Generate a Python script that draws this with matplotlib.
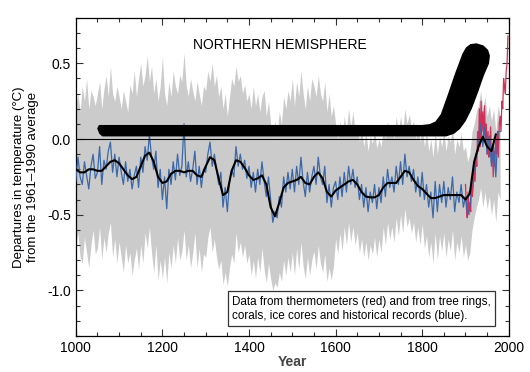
import numpy as np
import matplotlib
matplotlib.use("Agg")
import matplotlib.pyplot as plt
from matplotlib.ticker import MultipleLocator, FormatStrFormatter

plt.rcParams['font.family'] = ['Liberation Sans', 'DejaVu Sans']

# Reconstruction (tree rings, corals, ice cores, historical records), 5-year steps
proxy_years = np.arange(1000, 1985, 5)
proxy = [
    -0.28, -0.12, -0.25, -0.30, -0.15, -0.24, -0.33, -0.18, -0.10, -0.26,
    -0.22, -0.05, -0.30, -0.14, -0.20, -0.08, -0.02, -0.22, -0.10, -0.25,
    -0.12, -0.22, -0.30, -0.15, -0.28, -0.20, -0.33, -0.24, -0.18, -0.32,
    -0.12, -0.22, -0.05, -0.14, 0.03, -0.12, -0.20, -0.08, -0.32, -0.20,
    -0.40, -0.25, -0.46, -0.20, -0.30, -0.15, -0.27, -0.10, -0.24, -0.18,
    0.10, -0.25, -0.15, -0.28, -0.20, -0.08, -0.30, -0.18, -0.32, -0.20,
    -0.22, -0.10, -0.02, -0.18, -0.10, -0.20, -0.30, -0.22, -0.45, -0.32,
    -0.48, -0.28, -0.20, -0.25, -0.05, -0.18, -0.10, -0.20, -0.14, -0.26,
    -0.18, -0.32, -0.22, -0.35, -0.20, -0.30, -0.15, -0.28, -0.38, -0.25,
    -0.40, -0.55, -0.48, -0.52, -0.38, -0.45, -0.25, -0.35, -0.22, -0.33,
    -0.20, -0.35, -0.18, -0.30, -0.12, -0.28, -0.38, -0.22, -0.35, -0.25,
    -0.18, -0.30, -0.12, -0.25, -0.30, -0.18, -0.42, -0.30, -0.45, -0.32,
    -0.28, -0.40, -0.25, -0.38, -0.22, -0.35, -0.18, -0.30, -0.20, -0.32,
    -0.25, -0.40, -0.30, -0.45, -0.32, -0.48, -0.35, -0.42, -0.30, -0.46,
    -0.32, -0.42, -0.25, -0.38, -0.20, -0.32, -0.25, -0.35, -0.18, -0.30,
    -0.15, -0.30, -0.10, -0.25, -0.18, -0.28, -0.20, -0.35, -0.25, -0.38,
    -0.22, -0.40, -0.30, -0.45, -0.35, -0.52, -0.28, -0.48, -0.30, -0.42,
    -0.28, -0.45, -0.32, -0.40, -0.25, -0.48, -0.35, -0.42, -0.30, -0.45,
    -0.38, -0.50, -0.45, -0.28, -0.20, -0.10, -0.05, 0.10, -0.05, 0.08,
    -0.10, 0.02, -0.18, -0.05, -0.25, 0.05, 0.05,
]

# Uncertainty envelope (grey)
upper = [
    0.22, 0.30, 0.18, 0.35, 0.25, 0.40, 0.20, 0.32, 0.28, 0.22,
    0.30, 0.38, 0.20, 0.33, 0.42, 0.28, 0.48, 0.30, 0.25, 0.35,
    0.28, 0.20, 0.32, 0.25, 0.18, 0.36, 0.30, 0.45, 0.28, 0.40,
    0.50, 0.35, 0.42, 0.55, 0.38, 0.48, 0.30, 0.40, 0.25, 0.35,
    0.54, 0.30, 0.22, 0.38, 0.28, 0.45, 0.35, 0.30, 0.42, 0.38,
    0.57, 0.35, 0.28, 0.40, 0.32, 0.25, 0.38, 0.30, 0.22, 0.35,
    0.32, 0.45, 0.38, 0.50, 0.35, 0.42, 0.28, 0.35, 0.20, 0.30,
    0.15, 0.28, 0.40, 0.35, 0.48, 0.38, 0.42, 0.30, 0.36, 0.25,
    0.30, 0.20, 0.35, 0.22, 0.30, 0.18, 0.28, 0.32, 0.15, 0.25,
    0.10, 0.02, 0.12, 0.05, 0.18, 0.10, 0.28, 0.20, 0.32, 0.25,
    0.40, 0.22, 0.38, 0.28, 0.45, 0.30, 0.20, 0.35, 0.25, 0.40,
    0.35, 0.28, 0.42, 0.30, 0.25, 0.38, 0.18, 0.30, 0.15, 0.22,
    0.10, 0.00, 0.12, 0.02, 0.15, 0.05, 0.20, 0.08, 0.18, 0.05,
    0.10, -0.02, 0.08, -0.05, 0.05, -0.08, 0.02, -0.03, 0.06, -0.06,
    0.00, -0.05, 0.08, 0.00, 0.12, 0.02, 0.10, 0.00, 0.15, 0.05,
    0.15, 0.05, 0.20, 0.10, 0.16, 0.08, 0.12, 0.00, 0.08, -0.02,
    0.08, -0.05, 0.05, -0.08, 0.00, -0.12, 0.05, -0.10, 0.02, -0.05,
    0.05, -0.08, 0.02, -0.02, 0.08, -0.10, 0.00, -0.05, 0.04, -0.08,
    -0.05, -0.15, -0.10, 0.05, 0.10, 0.18, 0.22, 0.32, 0.20, 0.28,
    0.15, 0.22, 0.12, 0.20, 0.05, 0.22, 0.15,
]
lower = [
    -0.70, -0.62, -0.78, -0.82, -0.65, -0.75, -0.85, -0.70, -0.60, -0.76,
    -0.72, -0.58, -0.80, -0.65, -0.75, -0.62, -0.55, -0.78, -0.66, -0.82,
    -0.68, -0.78, -0.88, -0.70, -0.82, -0.75, -0.90, -0.80, -0.72, -0.86,
    -0.70, -0.82, -0.62, -0.72, -0.58, -0.75, -0.88, -0.70, -0.93, -0.80,
    -0.92, -0.78, -0.95, -0.75, -0.85, -0.70, -0.82, -0.65, -0.80, -0.74,
    -0.60, -0.80, -0.70, -0.85, -0.75, -0.62, -0.85, -0.72, -0.88, -0.76,
    -0.78, -0.65, -0.58, -0.75, -0.66, -0.78, -0.86, -0.80, -0.96, -0.88,
    -0.97, -0.85, -0.76, -0.82, -0.62, -0.75, -0.68, -0.78, -0.70, -0.82,
    -0.76, -0.90, -0.80, -0.92, -0.78, -0.88, -0.72, -0.86, -0.95, -0.82,
    -0.92, -1.00, -0.95, -0.98, -0.88, -0.94, -0.80, -0.90, -0.78, -0.88,
    -0.75, -0.90, -0.72, -0.86, -0.68, -0.84, -0.92, -0.78, -0.90, -0.80,
    -0.74, -0.86, -0.70, -0.82, -0.88, -0.76, -0.94, -0.85, -0.93, -0.84,
    -0.66, -0.76, -0.62, -0.74, -0.58, -0.70, -0.55, -0.68, -0.58, -0.70,
    -0.62, -0.75, -0.66, -0.78, -0.68, -0.80, -0.70, -0.76, -0.65, -0.78,
    -0.66, -0.75, -0.58, -0.70, -0.55, -0.66, -0.58, -0.68, -0.52, -0.64,
    -0.50, -0.62, -0.46, -0.58, -0.52, -0.62, -0.55, -0.68, -0.58, -0.70,
    -0.56, -0.72, -0.64, -0.78, -0.68, -0.82, -0.62, -0.80, -0.64, -0.74,
    -0.62, -0.78, -0.66, -0.74, -0.60, -0.80, -0.68, -0.75, -0.64, -0.78,
    -0.70, -0.80, -0.75, -0.60, -0.52, -0.45, -0.40, -0.32, -0.45, -0.35,
    -0.46, -0.38, -0.50, -0.40, -0.55, -0.35, -0.40,
]

# Smoothed reconstruction (black), 10-year steps
smooth_years = np.arange(1000, 1980, 10)
smooth = [
    -0.20, -0.22, -0.22, -0.20, -0.20, -0.21, -0.21, -0.18, -0.15, -0.14,
    -0.16, -0.20, -0.24, -0.265, -0.25, -0.18, -0.11, -0.09, -0.15, -0.25,
    -0.29, -0.28, -0.23, -0.21, -0.21, -0.22, -0.21, -0.21, -0.24, -0.25,
    -0.18, -0.12, -0.14, -0.26, -0.37, -0.35, -0.21, -0.14, -0.15, -0.19,
    -0.24, -0.27, -0.26, -0.24, -0.30, -0.45, -0.51, -0.42, -0.32, -0.29,
    -0.28, -0.27, -0.25, -0.29, -0.30, -0.25, -0.22, -0.26, -0.35, -0.38,
    -0.34, -0.32, -0.30, -0.28, -0.27, -0.30, -0.35, -0.38, -0.385, -0.385,
    -0.37, -0.32, -0.29, -0.29, -0.29, -0.25, -0.21, -0.22, -0.27, -0.31,
    -0.33, -0.36, -0.39, -0.39, -0.38, -0.37, -0.37, -0.37, -0.37, -0.37,
    -0.40, -0.36, -0.15, -0.05, 0.015, -0.05, -0.08, 0.03,
]

# Thermometer record (red), 2-year steps
thermo_years = np.arange(1900, 2000, 2)
thermo = [
    -0.30, -0.45, -0.52, -0.35, -0.50, -0.42, -0.48, -0.25, -0.38, -0.30,
    -0.20, -0.28, -0.10, -0.18, 0.05, -0.08, 0.20, -0.05, 0.25, 0.05,
    0.18, 0.02, 0.22, -0.02, 0.10, -0.10, 0.05, -0.12, -0.05, 0.08,
    -0.15, -0.05, -0.25, -0.08, -0.18, 0.02, -0.10, 0.05, -0.12, 0.10,
    0.15, 0.05, 0.25, 0.20, 0.40, 0.35, 0.30, 0.45, 0.50, 0.68,
]

# Hockey stick outline (year, deg C)
stick_x = [1055, 1800, 1818, 1832, 1845, 1860, 1878, 1895, 1903, 1912, 1925,
           1940, 1950, 1954, 1952, 1940, 1926, 1912, 1898, 1885, 1872, 1855,
           1062, 1056, 1052]
stick_y = [0.086, 0.086, 0.092, 0.11, 0.16, 0.28, 0.43, 0.56, 0.60, 0.62,
           0.625, 0.612, 0.585, 0.55, 0.50, 0.42, 0.305, 0.20, 0.12, 0.07,
           0.04, 0.024, 0.024, 0.04, 0.07]

fig = plt.figure(figsize=(5.30, 3.72), dpi=100)
ax = fig.add_axes([0.143, 0.097, 0.817, 0.855])

ax.fill_between(proxy_years, lower, upper, color="#cbcbcb", lw=0, zorder=1)
ax.plot(thermo_years, thermo, color="#d0305a", lw=0.9, zorder=2)
ax.plot(proxy_years, proxy, color="#3a68a8", lw=0.9, zorder=3)
ax.plot(smooth_years, smooth, color="black", lw=1.5, zorder=4,
        solid_joinstyle="round")
ax.axhline(0, color="black", lw=0.8, zorder=4)
ax.fill(stick_x, stick_y, color="black", lw=1.5, ec="black",
        joinstyle="round", zorder=5)

ax.set_xlim(1000, 2000)
ax.set_ylim(-1.3, 0.8)
ax.xaxis.set_major_locator(MultipleLocator(200))
ax.xaxis.set_minor_locator(MultipleLocator(50))
ax.yaxis.set_major_locator(MultipleLocator(0.5))
ax.yaxis.set_minor_locator(MultipleLocator(0.1))
ax.yaxis.set_major_formatter(FormatStrFormatter("%.1f"))
ax.tick_params(which="both", direction="in", top=True, right=True,
               labelsize=10, width=0.8, color="#333333")
ax.tick_params(which="major", length=5)
ax.tick_params(which="minor", length=3)
for s in ax.spines.values():
    s.set_linewidth(0.9)

ax.set_xlabel("Year", fontsize=10, fontweight="bold", color="#444444", labelpad=0)
ax.set_ylabel("Departures in temperature (\u00b0C)\nfrom the 1961\u20131990 average",
              fontsize=9.5, labelpad=6)

ax.text(0.471, 0.915, "NORTHERN HEMISPHERE", transform=ax.transAxes,
        ha="center", va="center", fontsize=10)
ax.text(0.36, 0.085,
        "Data from thermometers (red) and from tree rings,\n"
        "corals, ice cores and historical records (blue).",
        transform=ax.transAxes, ha="left", va="center", fontsize=8.4,
        linespacing=1.3,
        bbox=dict(boxstyle="square,pad=0.35", fc="white", ec="#333333", lw=0.9),
        zorder=6)

fig.savefig("out.png", dpi=100)
